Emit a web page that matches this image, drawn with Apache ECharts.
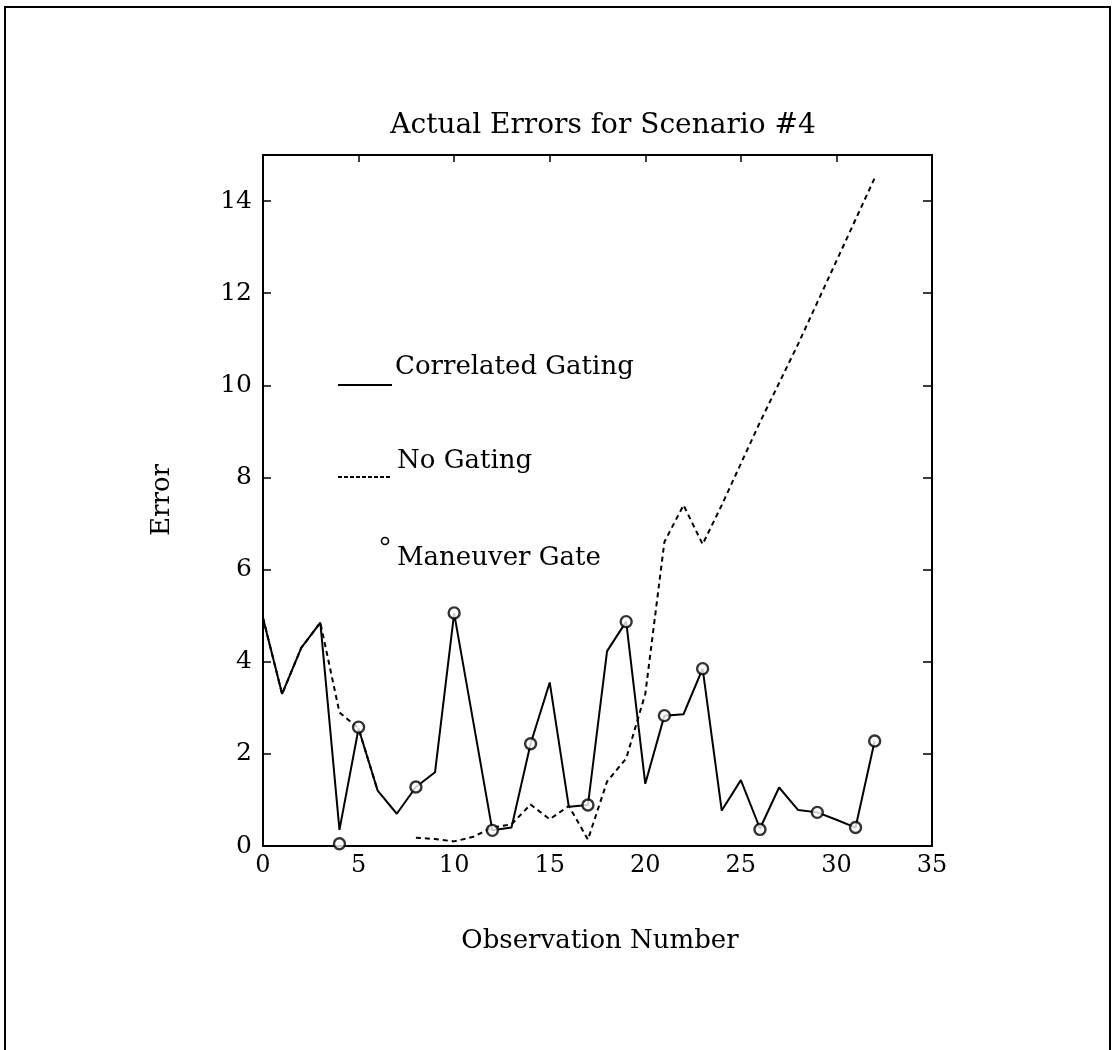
<!DOCTYPE html>
<html>
<head>
<meta charset="utf-8">
<script src="https://cdn.jsdelivr.net/npm/echarts@6/dist/echarts.min.js"></script>
<style>
html,body{margin:0;padding:0;background:#fff;}
#chart{width:1117px;height:1050px;}
</style>
</head>
<body>
<div id="chart"></div>
<script>
// ---- data ----
var observations = [0,1,2,3,4,5,6,7,8,9,10,11,12,13,14,15,16,17,18,19,20,21,22,23,24,25,26,27,28,29,30,31,32];
var correlatedGating = [4.95,3.3,4.3,4.85,0.35,2.55,1.2,0.7,1.28,1.6,5.05,2.7,0.34,0.4,2.22,3.55,0.85,0.89,4.23,4.87,1.35,2.83,2.86,3.85,0.77,1.43,0.38,1.27,0.78,0.73,0.57,0.4,2.28];
var noGating = [4.95,3.3,4.3,4.85,2.9,2.55,1.2,null,0.18,0.15,0.1,0.2,0.4,0.47,0.9,0.58,0.87,0.14,1.4,1.9,3.3,6.6,7.4,6.55,7.4,8.3,9.2,10.05,10.9,11.8,12.7,13.6,14.5];
var gateObs = [4,5,8,10,12,14,17,19,21,23,26,29,31,32];
var gateErr = [0.05,2.58,1.28,5.06,0.34,2.22,0.89,4.87,2.83,3.85,0.36,0.73,0.4,2.28];
var xTicks = [0,5,10,15,20,25,30,35];
var yTicks = [0,2,4,6,8,10,12,14];
var titleText = 'Actual Errors for Scenario #4';
var xName = 'Observation Number';
var yName = 'Error';
var legendNames = ['Correlated Gating','No Gating','Maneuver Gate'];

function pairs(xs, ys){ return xs.map(function(x,i){ return [x, ys[i]]; }); }

var FONT = '"DejaVu Serif", "Liberation Serif", serif';
var chart = echarts.init(document.getElementById('chart'), null, {renderer:'canvas'});

var option = {
  backgroundColor:'#fff',
  animation:false,
  title:{
    text: titleText, left: 598, top: 107, textAlign:'center',
    textStyle:{fontFamily:FONT, fontSize:28, fontWeight:'normal', color:'#000'}
  },
  grid:{left:263, top:155, right:185, bottom:204, containLabel:false},
  xAxis:[{
    type:'value', min:0, max:35, interval:5, position:'bottom',
    axisLine:{show:true, onZero:false, lineStyle:{color:'#000', width:2}},
    axisTick:{show:false},
    splitLine:{show:false},
    axisLabel:{color:'#000', fontFamily:FONT, fontSize:24, margin:8,
      formatter:function(v){ return xTicks.indexOf(v) >= 0 ? String(v) : ''; }}
  },{
    type:'value', min:0, max:35, interval:5, position:'top',
    axisLine:{show:true, onZero:false, lineStyle:{color:'#000', width:2}},
    axisTick:{show:true, inside:true, length:7, lineStyle:{color:'#000', width:1.5}},
    splitLine:{show:false}, axisLabel:{show:false}
  }],
  yAxis:[{
    type:'value', min:0, max:15, interval:2, position:'left',
    axisLine:{show:true, onZero:false, lineStyle:{color:'#000', width:2}},
    axisTick:{show:true, inside:true, length:8, lineStyle:{color:'#000', width:1.5}},
    splitLine:{show:false},
    axisLabel:{color:'#000', fontFamily:FONT, fontSize:25, margin:11,
      formatter:function(v){ return yTicks.indexOf(v) >= 0 ? String(v) : ''; }}
  },{
    type:'value', min:0, max:15, interval:2, position:'right',
    axisLine:{show:true, onZero:false, lineStyle:{color:'#000', width:2}},
    axisTick:{show:true, inside:true, length:9, lineStyle:{color:'#000', width:1.5}},
    splitLine:{show:false}, axisLabel:{show:false}
  }],
  series:[{
    name:legendNames[1], type:'line', data:pairs(observations, noGating),
    showSymbol:false, symbol:'none', connectNulls:false,
    lineStyle:{color:'#000', width:2, type:[5,4]}, z:2
  },{
    name:legendNames[0], type:'line', data:pairs(observations, correlatedGating),
    showSymbol:false, symbol:'none',
    lineStyle:{color:'#000', width:2, type:'solid'}, z:3
  },{
    name:legendNames[2], type:'scatter', data:pairs(gateObs, gateErr),
    symbol:'circle', symbolSize:11,
    itemStyle:{color:'#fff', borderColor:'#000', borderWidth:2.4}, z:4
  }],
  graphic:[
    {type:'rect', shape:{x:5,y:7,width:1105,height:1100}, style:{fill:'none', stroke:'#000', lineWidth:2}, silent:true, z:-1},
    {type:'text', x:162, y:500, rotation:Math.PI/2, style:{text:yName, fontFamily:FONT, fontSize:26, fill:'#000', textAlign:'center', textVerticalAlign:'middle'}},
    {type:'text', x:600, y:941, style:{text:xName, fontFamily:FONT, fontSize:26, fill:'#000', textAlign:'center', textVerticalAlign:'middle'}},
    {type:'line', shape:{x1:338,y1:385,x2:392,y2:385}, style:{stroke:'#000', lineWidth:2}},
    {type:'text', x:395, y:367, style:{text:legendNames[0], fontFamily:FONT, fontSize:26, fill:'#000', textAlign:'left', textVerticalAlign:'middle'}},
    {type:'line', shape:{x1:338,y1:477,x2:392,y2:477}, style:{stroke:'#000', lineWidth:2, lineDash:[4,2]}},
    {type:'text', x:397, y:461, style:{text:legendNames[1], fontFamily:FONT, fontSize:26, fill:'#000', textAlign:'left', textVerticalAlign:'middle'}},
    {type:'circle', shape:{cx:385, cy:541, r:3.5}, style:{fill:'none', stroke:'#000', lineWidth:1.6}},
    {type:'text', x:397, y:558, style:{text:legendNames[2], fontFamily:FONT, fontSize:26, fill:'#000', textAlign:'left', textVerticalAlign:'middle'}}
  ]
};
chart.setOption(option);
</script>
</body>
</html>
